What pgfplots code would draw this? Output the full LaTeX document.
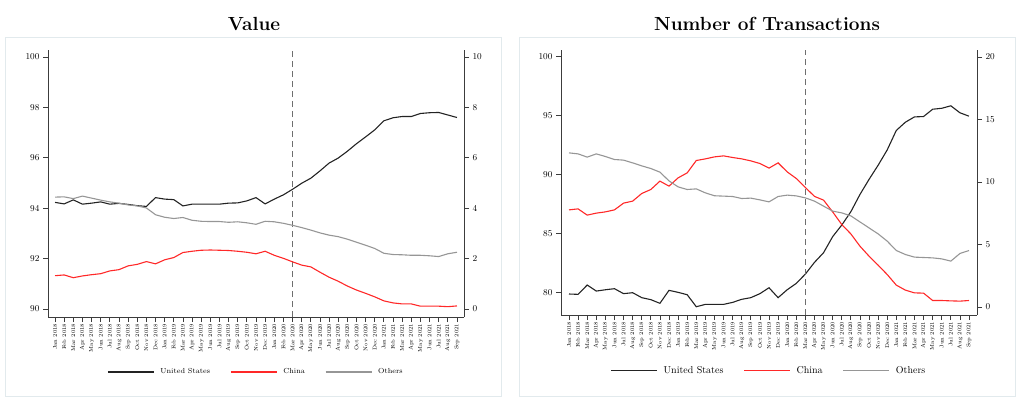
\documentclass[border=0pt]{standalone}
\usepackage{pgfplots}
\pgfplotsset{compat=1.18}
\usepackage{pgfplotstable}

\definecolor{usc}{RGB}{35,35,35}
\definecolor{cnc}{RGB}{255,40,40}
\definecolor{otc}{RGB}{150,150,150}
\definecolor{framec}{RGB}{226,234,237}
\definecolor{axc}{RGB}{60,60,60}
\definecolor{dashc}{RGB}{110,110,110}

% shares by month, Jan 2018 = 0 ... Sep 2021 = 44
\pgfplotstableread{
i us china others
0 94.23 1.32 4.44
1 94.17 1.35 4.45
2 94.33 1.24 4.38
3 94.16 1.31 4.48
4 94.20 1.36 4.40
5 94.25 1.40 4.32
6 94.16 1.51 4.25
7 94.19 1.56 4.20
8 94.15 1.71 4.13
9 94.10 1.77 4.09
10 94.07 1.88 4.01
11 94.42 1.79 3.74
12 94.36 1.95 3.64
13 94.34 2.04 3.59
14 94.09 2.24 3.63
15 94.16 2.29 3.52
16 94.16 2.33 3.48
17 94.16 2.34 3.47
18 94.16 2.33 3.47
19 94.20 2.32 3.44
20 94.21 2.29 3.46
21 94.29 2.25 3.42
22 94.42 2.19 3.36
23 94.17 2.29 3.48
24 94.36 2.13 3.46
25 94.53 2.01 3.40
26 94.75 1.87 3.32
27 94.99 1.74 3.23
28 95.19 1.67 3.13
29 95.48 1.46 3.02
30 95.79 1.26 2.93
31 95.99 1.10 2.87
32 96.26 0.91 2.77
33 96.56 0.75 2.65
34 96.83 0.62 2.53
35 97.11 0.48 2.40
36 97.47 0.32 2.21
37 97.59 0.24 2.16
38 97.64 0.20 2.15
39 97.64 0.20 2.13
40 97.76 0.11 2.13
41 97.79 0.11 2.11
42 97.80 0.11 2.08
43 97.70 0.09 2.19
44 97.60 0.12 2.25
}\valtab

\pgfplotstableread{
i us china others
0 79.89 7.77 12.33
1 79.86 7.85 12.25
2 80.65 7.35 11.99
3 80.14 7.51 12.25
4 80.25 7.61 12.04
5 80.34 7.77 11.80
6 79.92 8.31 11.75
7 80.00 8.47 11.53
8 79.58 9.08 11.29
9 79.41 9.40 11.08
10 79.10 10.07 10.79
11 80.20 9.67 10.09
12 80.03 10.33 9.61
13 79.83 10.73 9.40
14 78.81 11.72 9.45
15 79.01 11.85 9.13
16 79.01 12.01 8.90
17 79.01 12.09 8.87
18 79.18 11.96 8.84
19 79.44 11.85 8.68
20 79.58 11.69 8.71
21 79.92 11.48 8.57
22 80.42 11.11 8.41
23 79.58 11.53 8.84
24 80.25 10.81 8.95
25 80.79 10.28 8.89
26 81.58 9.56 8.73
27 82.57 8.85 8.47
28 83.39 8.55 8.07
29 84.75 7.61 7.67
30 85.73 6.60 7.53
31 86.86 5.85 7.29
32 88.32 4.87 6.81
33 89.60 4.07 6.33
34 90.80 3.35 5.85
35 92.10 2.60 5.27
36 93.75 1.75 4.52
37 94.45 1.35 4.20
38 94.90 1.13 3.99
39 94.93 1.11 3.96
40 95.55 0.52 3.93
41 95.63 0.52 3.85
42 95.84 0.49 3.67
43 95.25 0.47 4.28
44 94.96 0.52 4.52
}\trntab

\pgfplotsset{
  base/.style={
    scale only axis, width=416pt,
    axis line style={axc, line width=0.8pt},
    tick style={axc, line width=0.8pt},
    major tick length=5pt, tick align=outside,
    xtick={0,...,44},
    y tick label style={font=\fontsize{9}{10}\selectfont},
  },
  lefty/.style={
    base, axis x line*=bottom, axis y line*=left,
    x tick label style={rotate=90, anchor=east, inner sep=1.5pt,
      font=\fontsize{5.5}{6}\selectfont},
    xticklabels={Jan 2018,Feb 2018,Mar 2018,Apr 2018,May 2018,Jun 2018,
      Jul 2018,Aug 2018,Sep 2018,Oct 2018,Nov 2018,Dec 2018,
      Jan 2019,Feb 2019,Mar 2019,Apr 2019,May 2019,Jun 2019,
      Jul 2019,Aug 2019,Sep 2019,Oct 2019,Nov 2019,Dec 2019,
      Jan 2020,Feb 2020,Mar 2020,Apr 2020,May 2020,Jun 2020,
      Jul 2020,Aug 2020,Sep 2020,Oct 2020,Nov 2020,Dec 2020,
      Jan 2021,Feb 2021,Mar 2021,Apr 2021,May 2021,Jun 2021,
      Jul 2021,Aug 2021,Sep 2021},
  },
  righty/.style={
    base, axis x line=none, axis y line*=right,
    legend image code/.code={\draw[##1] (0pt,0pt) -- (46pt,0pt);},
  },
  us/.style={usc, line width=1.1pt},
  cn/.style={cnc, line width=1.1pt},
  ot/.style={otc, line width=1.1pt},
}

\begin{document}
\begin{tikzpicture}
\useasboundingbox (0,0) rectangle (1024pt,400pt);
\draw[framec, line width=0.8pt] (5.5pt,3.5pt) rectangle (501pt,363pt);
\draw[framec, line width=0.8pt] (519pt,3.5pt) rectangle (1015pt,363pt);

\node[anchor=base, font=\bfseries\fontsize{19}{22}\selectfont] at (254pt,369pt) {Value};
\node[anchor=base, font=\bfseries\fontsize{19}{22}\selectfont] at (767pt,369pt) {Number of Transactions};

% ---- Value panel
\begin{axis}[lefty, at={(48pt,83pt)}, anchor=south west, height=267pt,
  xmin=-0.77, xmax=44.77, ymin=89.68, ymax=100.28, ytick={90,92,...,100}]
  \addplot[us] table[x=i, y=us] {\valtab};
  \draw[dashc, line width=0.9pt, dash pattern=on 6pt off 4pt]
    (axis cs:26,89.68) -- (axis cs:26,100.28);
\end{axis}
\begin{axis}[righty, at={(48pt,83pt)}, anchor=south west, height=267pt,
  xmin=-0.77, xmax=44.77, ymin=-0.32, ymax=10.28, ytick={0,2,...,10},
  legend style={draw=none, fill=none, at={(0.5,-0.206)}, anchor=center,
    legend columns=3, font=\fontsize{7.3}{8}\selectfont,
    /tikz/every odd column/.append style={column sep=4pt},
    /tikz/every even column/.append style={column sep=18pt}}]
  \addlegendimage{us}
  \addplot[cn] table[x=i, y=china] {\valtab};
  \addplot[ot] table[x=i, y=others] {\valtab};
  \legend{United States, China, Others}
\end{axis}

% ---- Number of transactions panel
\begin{axis}[lefty, at={(561pt,85pt)}, anchor=south west, height=265pt,
  xmin=-0.88, xmax=44.88, ymin=78.11, ymax=100.57, ytick={80,85,...,100}]
  \addplot[us] table[x=i, y=us] {\trntab};
  \draw[dashc, line width=0.9pt, dash pattern=on 6pt off 4pt]
    (axis cs:26,78.11) -- (axis cs:26,100.57);
\end{axis}
\begin{axis}[righty, at={(561pt,85pt)}, anchor=south west, height=265pt,
  xmin=-0.88, xmax=44.88, ymin=-0.64, ymax=20.56, ytick={0,5,...,20},
  legend style={draw=none, fill=none, at={(0.5,-0.21)}, anchor=center,
    legend columns=3, font=\fontsize{10}{11}\selectfont,
    /tikz/every odd column/.append style={column sep=4pt},
    /tikz/every even column/.append style={column sep=18pt}}]
  \addlegendimage{us}
  \addplot[cn] table[x=i, y=china] {\trntab};
  \addplot[ot] table[x=i, y=others] {\trntab};
  \legend{United States, China, Others}
\end{axis}
\end{tikzpicture}
\end{document}
